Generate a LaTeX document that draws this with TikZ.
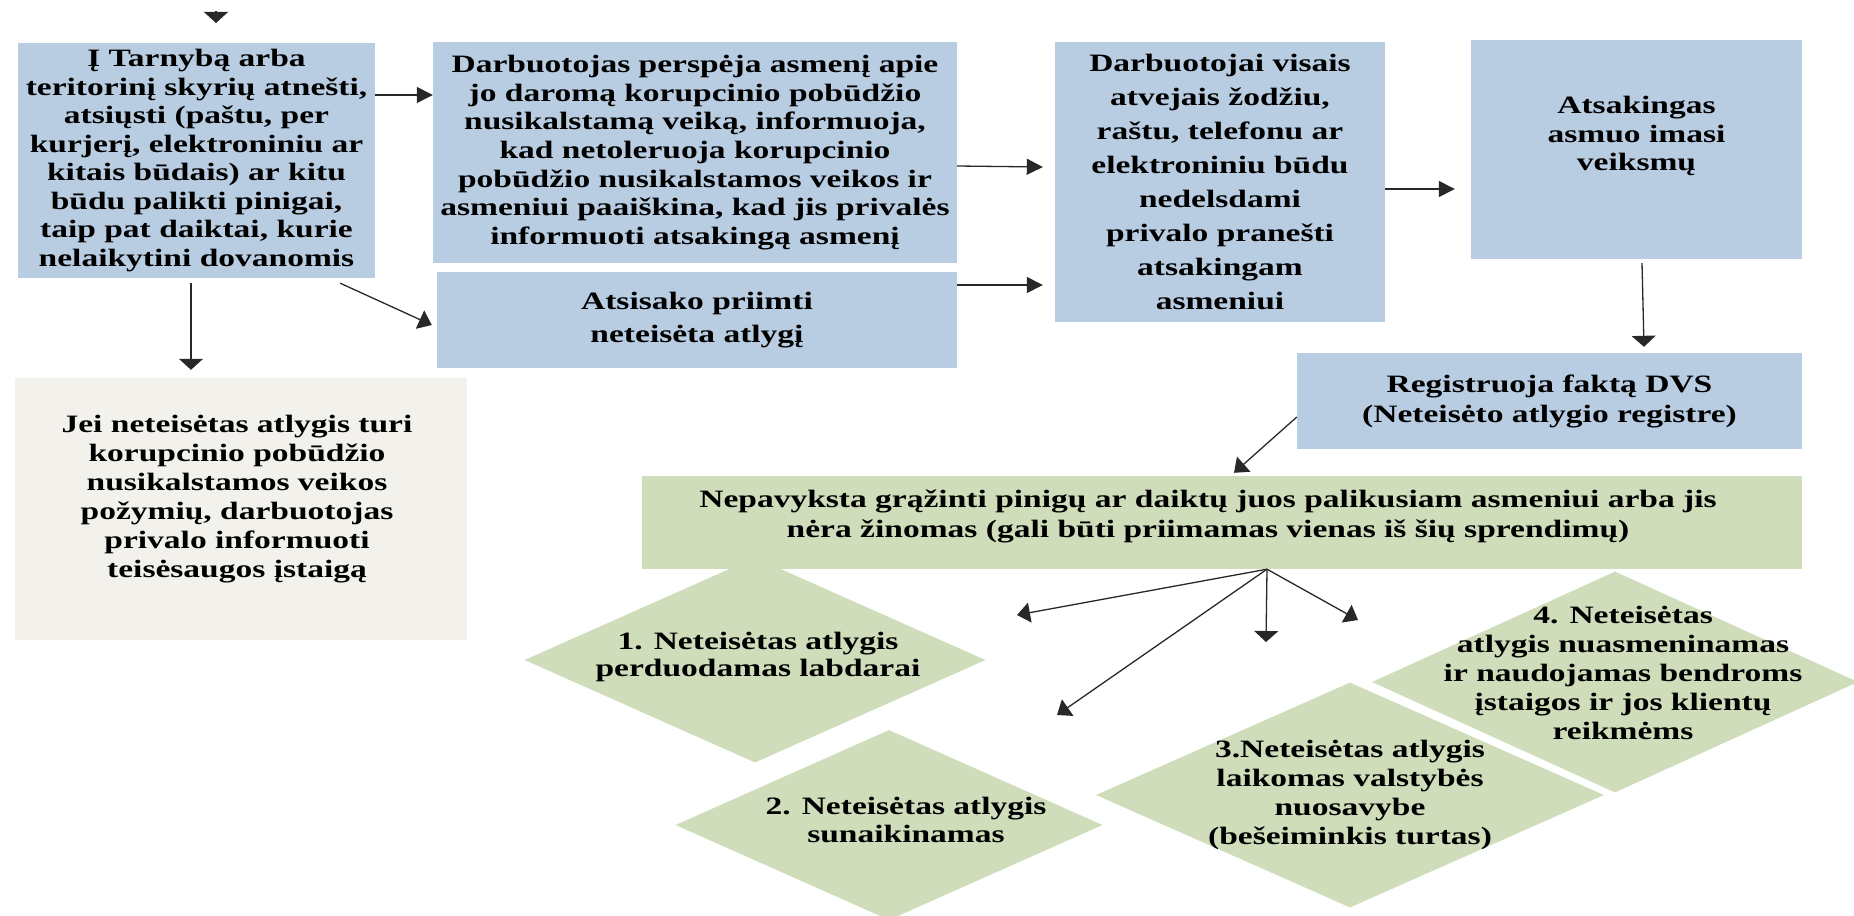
\documentclass[tikz,border=0pt]{standalone}
\usepackage{fontspec}
\newfontfamily\diagfont{Liberation Serif}[FakeStretch=1.34]
\usetikzlibrary{arrows.meta,shapes.geometric}
\definecolor{boxblue}{RGB}{185,205,226}
\definecolor{boxgreen}{RGB}{207,221,186}
\definecolor{boxbeige}{RGB}{243,241,236}
\definecolor{linecol}{RGB}{40,40,40}
\begin{document}
\begin{tikzpicture}[x=1pt,y=-1pt,
  fs/.style={font=\diagfont\bfseries\fontsize{25}{#1}\selectfont},
  box/.style={rectangle, inner sep=0pt, align=center, text=black},
  bluebox/.style={box, fill=boxblue},
  greenbox/.style={box, fill=boxgreen},
  beigebox/.style={box, fill=boxbeige},
  dia/.style={diamond, fill=boxgreen, inner sep=0pt},
  txt/.style={align=center, inner sep=0pt, text=black},
  conn/.style={draw=linecol, line width=1.3pt},
  tipH/.style={-{Triangle[length=16pt,width=16pt]}},
  tipV/.style={-{Triangle[length=11pt,width=24pt]}},
  tipD/.style={-{Triangle[length=13pt,width=20pt]}},
]
\useasboundingbox (0,0) rectangle (1854,915);

% diamonds
\node[dia, minimum width=461pt, minimum height=205pt] (d1) at (755,660) {};
\node[dia, minimum width=427pt, minimum height=190pt] (d2) at (889,825) {};
\node[dia, minimum width=508pt, minimum height=225pt] (d3) at (1350,795) {};
\node[dia, minimum width=486pt, minimum height=221pt] (d4) at (1615,682) {};

% boxes
\node[bluebox, fs=28.5, minimum width=357pt, minimum height=235pt] (A) at (196.5,160.5)
  {Į Tarnybą arba\\ teritorinį skyrių atnešti,\\ atsiųsti (paštu, per\\ kurjerį, elektroniniu ar\\ kitais būdais) ar kitu\\ būdu palikti pinigai,\\ taip pat daiktai, kurie\\ nelaikytini dovanomis};
\node[bluebox, fs=28.6, minimum width=524pt, minimum height=221pt] (B) at (695,152.5)
  {Darbuotojas perspėja asmenį apie\\ jo daromą korupcinio pobūdžio\\ nusikalstamą veiką, informuoja,\\ kad netoleruoja korupcinio\\ pobūdžio nusikalstamos veikos ir\\ asmeniui paaiškina, kad jis privalės\\ informuoti atsakingą asmenį};
\node[bluebox, fs=33, minimum width=520pt, minimum height=96pt] (C) at (697,320)
  {Atsisako priimti\\ neteisėta atlygį};
\node[bluebox, fs=34, minimum width=330pt, minimum height=280pt] (D) at (1220,182)
  {Darbuotojai visais\\ atvejais žodžiu,\\ raštu, telefonu ar\\ elektroniniu būdu\\ nedelsdami\\ privalo pranešti\\ atsakingam\\ asmeniui};
\node[bluebox, minimum width=331pt, minimum height=219pt] (E) at (1636.5,149.5) {};
\node[txt, fs=28.5] (Et) at (1636.5,136) {Atsakingas\\ asmuo imasi\\ veiksmų};
\node[bluebox, fs=30, minimum width=505pt, minimum height=96pt] (F) at (1549.5,401)
  {Registruoja faktą DVS\\ (Neteisėto atlygio registre)};
\node[beigebox, minimum width=452pt, minimum height=262pt] (G) at (241,509) {};
\node[txt, fs=29] (Gt) at (237,499)
  {Jei neteisėtas atlygis turi\\ korupcinio pobūdžio\\ nusikalstamos veikos\\ požymių, darbuotojas\\ privalo informuoti\\ teisėsaugos įstaigą};
\node[greenbox, minimum width=1160pt, minimum height=93pt] (H) at (1222,522.5) {};
\node[txt, fs=30] (Ht) at (1208,516)
  {Nepavyksta grąžinti pinigų ar daiktų juos palikusiam asmeniui arba jis\\ nėra žinomas (gali būti priimamas vienas iš šių sprendimų)};

% diamond texts
\node[txt, fs=27] (d1t) at (758,657) {1. Neteisėtas atlygis\\ perduodamas labdarai};
\node[txt, fs=28] (d2t) at (906,820) {2. Neteisėtas atlygis\\ sunaikinamas};
\node[txt, fs=29] (d3t) at (1350,795) {3.Neteisėtas atlygis\\ laikomas valstybės\\ nuosavybe\\ (bešeiminkis turtas)};
\node[txt, fs=28.8] (d4t) at (1623,673) {4. Neteisėtas\\ atlygis nuasmeninamas\\ ir naudojamas bendroms\\ įstaigos ir jos klientų\\ reikmėms};

% free ends
\coordinate (top0) at (216,11);
\coordinate (top1) at (216,23);
\coordinate (t1) at (1017,615);
\coordinate (t2) at (1057,715);
\coordinate (t3) at (1266,642);
\coordinate (t4) at (1358,620);
\coordinate (aS) at ([xshift=-5.5pt]A.south);

% connectors
\draw[conn,tipV] (top0) -- (top1);
\draw[conn,tipH] ([yshift=65.5pt]A.east) -- ([yshift=65.5pt]A.east -| B.west);
\draw[conn,tipV,shorten <=5pt,shorten >=8pt] (aS) -- (aS |- G.north);
\draw[conn,tipD] ([xshift=-35pt,yshift=-5pt]A.south east) -- ([xshift=-5pt,yshift=-5pt]C.west);
\draw[conn,tipH] ([yshift=-13.5pt]B.east) -- ([xshift=-12pt,yshift=15pt]D.west);
\draw[conn,tipH] ([yshift=35pt]C.east) -- ([xshift=-12pt,yshift=-103pt]D.west);
\draw[conn,tipH] ([yshift=-7pt]D.east) -- ([xshift=-16pt,yshift=-39.5pt]E.west);
\draw[conn,tipV] ([xshift=5.5pt,yshift=-4pt]E.south) -- ([xshift=94.5pt,yshift=6pt]F.north);
\draw[conn,tipD] ([yshift=-16pt]F.west) -- ([xshift=12pt,yshift=3pt]H.north);
\draw[conn,tipD] ([xshift=45pt]H.south) -- (t1);
\draw[conn,tipD] ([xshift=45pt]H.south) -- (t2);
\draw[conn,tipV] ([xshift=45pt]H.south) -- (t3);
\draw[conn,tipD] ([xshift=45pt]H.south) -- (t4);
\end{tikzpicture}
\end{document}
